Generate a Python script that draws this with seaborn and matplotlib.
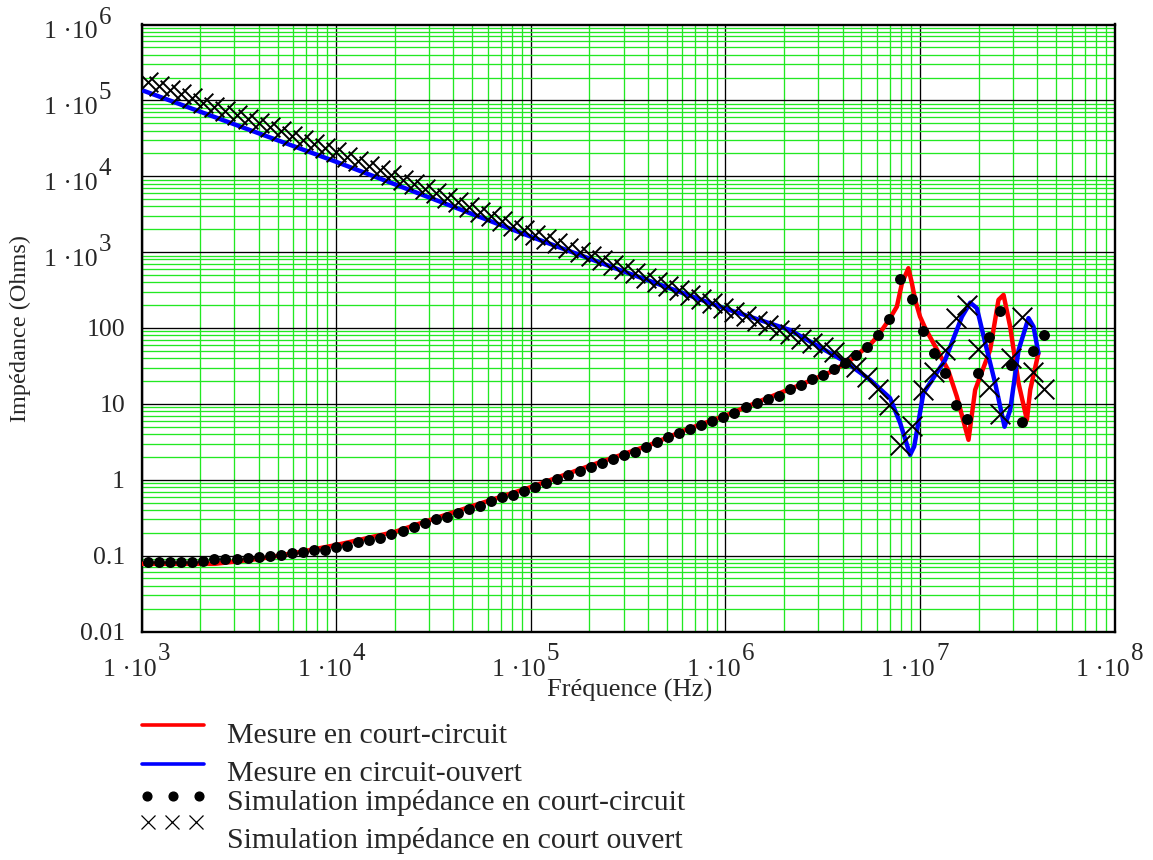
import matplotlib
matplotlib.use("Agg")
import matplotlib.pyplot as plt
import matplotlib.transforms as mtransforms
from matplotlib.lines import Line2D
from matplotlib.ticker import LogLocator, NullFormatter
import seaborn as sns

# Simulated impedances, sampled on the same frequency grid (Hz)
f_sim = [1080, 1231, 1403, 1600, 1823, 2078, 2369, 2700, 3077, 3508,
         3999, 4558, 5195, 5922, 6750, 7694, 8770, 9998, 11400, 12990,
         14810, 16880, 19240, 21930, 25000, 28500, 32480, 37020, 42200, 48110,
         54830, 62500, 71240, 81210, 92560, 105500, 120200, 137100, 156200, 178100,
         203000, 231400, 263700, 300600, 342600, 390600, 445200, 507500, 578400, 659400,
         751500, 856700, 976300, 1.113e6, 1.269e6, 1.446e6, 1.648e6, 1.879e6, 2.141e6, 2.441e6,
         2.782e6, 3.172e6, 3.615e6, 4.121e6, 4.697e6, 5.354e6, 6.102e6, 6.956e6, 7.929e6, 9.039e6,
         1.030e7, 1.174e7, 1.339e7, 1.526e7, 1.739e7, 1.983e7, 2.260e7, 2.576e7, 2.936e7, 3.347e7,
         3.815e7, 4.349e7]

z_sim_sc = [0.0835, 0.0835, 0.0835, 0.0835, 0.0835, 0.0861, 0.0899, 0.0899, 0.0899, 0.0927,
            0.0955, 0.0994, 0.1025, 0.108, 0.111, 0.117, 0.119, 0.129, 0.135, 0.149,
            0.162, 0.170, 0.194, 0.208, 0.238, 0.268, 0.303, 0.327, 0.363, 0.410,
            0.457, 0.523, 0.590, 0.627, 0.708, 0.798, 0.910, 1.03, 1.16, 1.31,
            1.48, 1.67, 1.88, 2.13, 2.33, 2.71, 3.16, 3.67, 4.15, 4.69,
            5.29, 5.97, 6.74, 7.62, 9.14, 10.3, 11.6, 12.8, 15.6, 17.8,
            21.1, 23.9, 28.6, 34.4, 43.8, 55.8, 80.4, 131, 440, 240,
            92.5, 46.6, 25.4, 9.7, 6.28, 25.4, 75.7, 168, 32.7, 5.85,
            49.9, 81]

z_sim_oc = [1.74e5, 1.53e5, 1.36e5, 1.20e5, 1.06e5, 9.31e4, 8.22e4, 7.26e4, 6.41e4, 5.66e4,
            5.00e4, 4.42e4, 3.90e4, 3.44e4, 3.03e4, 2.68e4, 2.37e4, 2.09e4, 1.82e4, 1.58e4,
            1.37e4, 1.20e4, 1.04e4, 9060, 7870, 6860, 5960, 5180, 4510, 3920,
            3410, 2970, 2580, 2240, 1950, 1700, 1490, 1310, 1150, 1010,
            887, 778, 684, 600, 527, 462, 406, 356, 313, 275,
            242, 212, 186, 163, 142, 124, 109, 94.8, 83.0, 72.4,
            63.1, 55.6, 47.9, 38.0, 30.9, 22.4, 15.8, 9.77, 2.88, 5.13,
            15.1, 26.7, 51.4, 135, 201, 52.6, 16.6, 7.31, 40.0, 141,
            26.7, 15.6]

# Measured short-circuit impedance
f_meas_sc = [1000, 2390, 4060, 6310, 1e4, 1.995e4, 3.162e4, 5.012e4, 1e5, 1.995e5,
             3.981e5, 6.31e5, 1e6, 1.585e6, 2.512e6, 3.548e6, 4.467e6, 5.623e6, 6.1e6, 6.96e6,
             7.6e6, 8.07e6, 8.71e6, 9.08e6, 9.44e6, 1.0e7, 1.064e7, 1.197e7, 1.393e7, 1.545e7,
             1.774e7, 1.919e7, 2.291e7, 2.529e7, 2.685e7, 2.904e7, 3.206e7, 3.540e7, 3.681e7, 4.055e7]
z_meas_sc = [0.078, 0.078, 0.091, 0.110, 0.138, 0.205, 0.305, 0.45, 0.80, 1.52,
             2.8, 4.6, 7.0, 11.5, 18.5, 27, 39, 63, 80, 131,
             191, 389, 614, 389, 234, 141, 99, 57, 28, 12.5,
             3.36, 15.3, 51.5, 235, 273, 104, 18.7, 6.15, 15.3, 46.6]

# Measured open-circuit impedance
f_meas_oc = [1000, 3162, 1e4, 3.162e4, 1e5, 3.162e5, 1e6, 2.148e6, 4.12e6, 5.546e6,
             7.015e6, 7.907e6, 8.89e6, 9.33e6, 1.040e7, 1.346e7, 1.641e7, 1.811e7, 1.959e7, 2.163e7,
             2.432e7, 2.716e7, 2.904e7, 3.206e7, 3.606e7, 3.828e7, 4.055e7]
z_meas_oc = [1.37e5, 4.6e4, 1.55e4, 5.0e3, 1600, 530, 180, 94, 36, 20.7,
             11.9, 5.57, 2.13, 2.74, 13.8, 38, 141, 216, 182, 63,
             18.7, 5.0, 8.3, 51, 135, 104, 46.6]

x_decades = [3, 4, 5, 6, 7, 8]
y_pow_decades = [3, 4, 5, 6]
y_plain_values = [100, 10, 1, 0.1, 0.01]
y_plain_labels = ['100', '10', '1', '0.1', '0.01']
legend_labels = ['Mesure en court-circuit', 'Mesure en circuit-ouvert',
                 'Simulation impédance en court-circuit',
                 'Simulation impédance en court ouvert']

W, H = 1153, 860
GREEN = '#22e822'


def main():
    sns.set_style("white")
    plt.rcParams['font.family'] = ['Liberation Serif', 'DejaVu Serif']

    fig = plt.figure(figsize=(W / 100, H / 100), dpi=100)
    left, right, top, bottom = 141.5, 1114.7, 24.5, 631.5
    ax = fig.add_axes([left / W, 1 - bottom / H, (right - left) / W, (bottom - top) / H])
    ax.set_xscale('log')
    ax.set_yscale('log')

    # curves
    sns.lineplot(x=f_meas_sc, y=z_meas_sc, ax=ax, color='#ff0000', linewidth=3.2, sort=False, zorder=3)
    sns.lineplot(x=f_meas_oc, y=z_meas_oc, ax=ax, color='#0000ff', linewidth=3.2, sort=False, zorder=3)
    sns.scatterplot(x=f_sim, y=z_sim_sc, ax=ax, color='black', s=62, linewidth=0, zorder=4)
    sns.scatterplot(x=f_sim, y=z_sim_oc, ax=ax, color='black', marker='x', s=200, linewidth=1.4, zorder=4)

    ax.set_xlim(1e3, 1e8)
    ax.set_ylim(1e-2, 1e6)
    for axis in (ax.xaxis, ax.yaxis):
        axis.set_major_locator(LogLocator(base=10, numticks=30))
        axis.set_minor_locator(LogLocator(base=10, subs=range(2, 10), numticks=200))
        axis.set_minor_formatter(NullFormatter())
    ax.grid(True, which='minor', color=GREEN, linewidth=0.95)
    ax.grid(True, which='major', color='black', linewidth=0.95)
    ax.set_axisbelow(True)
    ax.tick_params(which='both', length=0, labelbottom=False, labelleft=False)
    for sp in ax.spines.values():
        sp.set_color('black')
        sp.set_linewidth(1.7)

    def off(dx, dy):
        # offset in pixels, dy positive downwards
        return mtransforms.ScaledTranslation(dx / 100, -dy / 100, fig.dpi_scale_trans)

    # x tick labels "1·10^n"
    tx = ax.get_xaxis_transform()
    for k in x_decades:
        ax.text(10.0 ** k, 0, '1 \u00b710', transform=tx + off(15, 45),
                ha='right', va='baseline', fontsize=18.5)
        ax.text(10.0 ** k, 0, str(k), transform=tx + off(16, 28.5),
                ha='left', va='baseline', fontsize=18)

    # y tick labels
    ty = ax.get_yaxis_transform()
    for k in y_pow_decades:
        ax.text(0, 10.0 ** k, '1 \u00b710', transform=ty + off(-43.5, 14),
                ha='right', va='baseline', fontsize=18.5)
        ax.text(0, 10.0 ** k, str(k), transform=ty + off(-43, -1),
                ha='left', va='baseline', fontsize=18)
    for v, lab in zip(y_plain_values, y_plain_labels):
        ax.text(0, v, lab, transform=ty + off(-16.5, 8.5),
                ha='right', va='baseline', fontsize=18.5)

    fig.text(630 / W, 1 - 690 / H, 'Fréquence (Hz)', ha='center', va='center', fontsize=19)
    fig.text(20 / W, 1 - 328 / H, 'Impédance (Ohms)', rotation=90, ha='center', va='center', fontsize=17.5)

    # legend below the plot
    def fx(x):
        return x / W

    def fy(y):
        return 1 - y / H

    fig.add_artist(Line2D([fx(142), fx(204)], [fy(725)] * 2, transform=fig.transFigure,
                          color='#ff0000', linewidth=2.6))
    fig.add_artist(Line2D([fx(142), fx(204)], [fy(764)] * 2, transform=fig.transFigure,
                          color='#0000ff', linewidth=2.6))
    fig.add_artist(Line2D([fx(147), fx(173), fx(199)], [fy(796)] * 3, transform=fig.transFigure,
                          color='black', linestyle='none', marker='o', markersize=6.3))
    fig.add_artist(Line2D([fx(148), fx(172), fx(196)], [fy(822)] * 3, transform=fig.transFigure,
                          color='black', linestyle='none', marker='x', markersize=10,
                          markeredgewidth=0.9))
    for lab, yb in zip(legend_labels, [743, 781, 810, 848]):
        fig.text(fx(227), fy(yb), lab, ha='left', va='baseline', fontsize=21.5)

    fig.savefig('out.png', dpi=100)


if __name__ == "__main__":
    main()
